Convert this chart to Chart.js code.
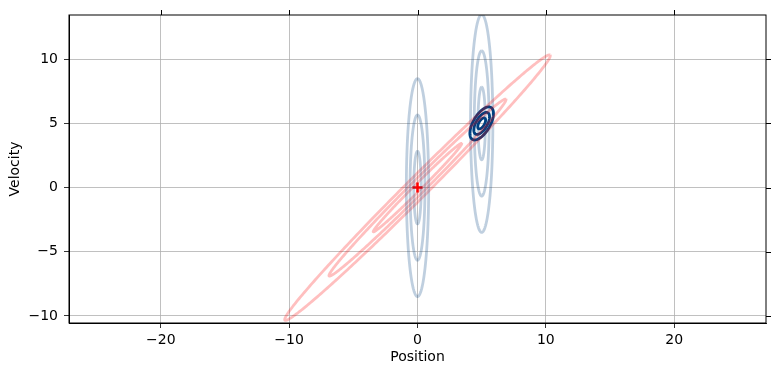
<!DOCTYPE html>
<html>
<head>
<meta charset="utf-8">
<script src="https://cdn.jsdelivr.net/npm/chart.js@4.4.0/dist/chart.umd.min.js"></script>
<style>
  html, body { margin: 0; padding: 0; background: #fff; }
  #wrap { width: 780px; height: 376px; }
</style>
</head>
<body>
<div id="wrap"><canvas id="myChart" width="780" height="376"></canvas></div>
<script>
// axis ranges and ticks
const xRange = [-27.15, 27.15];
const yRange = [-10.55, 13.45];
const xTicks = [-20, -10, 0, 10, 20];
const yTicks = [-10, -5, 0, 5, 10];

// covariance ellipses (1 sigma), drawn at 1, 2 and 3 sigma
const sigmaLevels = [1, 2, 3];
const ellipseNames = ['prior', 'predicted', 'priorShifted', 'posterior'];
const centerX = [0, 0, 5, 5];
const centerY = [0, 0, 5, 5];
const semiMajor = [2.83, 4.87, 2.83, 0.48];
const semiMinor = [0.29, 0.27, 0.29, 0.22];
const angleDeg = [90, 45, 90, 60];

// state marker
const markerX = [0];
const markerY = [0];

const ellipseStyle = {
    prior: 'rgba(0, 64, 128, 0.25)',
    predicted: 'rgba(255, 0, 0, 0.25)',
    priorShifted: 'rgba(0, 64, 128, 0.25)',
    posterior: 'rgb(0, 64, 128)'
};

function ellipseOutline(i, k) {
    var pts = [];
    var t = angleDeg[i] * Math.PI / 180;
    var a = semiMajor[i] * k, b = semiMinor[i] * k;
    for (var j = 0; j <= 180; j++) {
        var u = 2 * Math.PI * j / 180;
        var ex = a * Math.cos(u), ey = b * Math.sin(u);
        pts.push({
            x: centerX[i] + ex * Math.cos(t) - ey * Math.sin(t),
            y: centerY[i] + ex * Math.sin(t) + ey * Math.cos(t)
        });
    }
    return pts;
}

var datasets = [];
ellipseNames.forEach(function (name, i) {
    sigmaLevels.forEach(function (k) {
        datasets.push({
            label: name + ' ' + k + 'σ',
            data: ellipseOutline(i, k),
            showLine: true,
            borderColor: ellipseStyle[name],
            borderWidth: 2.8,
            pointRadius: 0,
            fill: false,
            tension: 0.001 // avoids the fast path, which breaks vertical curves
        });
    });
});
datasets.push({
    label: 'state',
    data: markerX.map(function (x, i) { return { x: x, y: markerY[i] }; }),
    pointStyle: 'cross',
    pointRadius: 5,
    borderColor: 'red',
    borderWidth: 2.5,
    showLine: false
});

function minus(v) { return String(v).replace('-', '\u2212'); }

// frame + ticks on top and right, like matplotlib
const frameTicks = {
    id: 'frameTicks',
    afterDraw: function (chart) {
        var ctx = chart.ctx, area = chart.chartArea;
        var sx = chart.scales.x, sy = chart.scales.y;
        ctx.save();
        ctx.strokeStyle = '#000';
        ctx.lineWidth = 1;
        ctx.strokeRect(area.left, area.top, area.right - area.left, area.bottom - area.top);
        ctx.beginPath();
        xTicks.forEach(function (v) {
            var px = Math.round(sx.getPixelForValue(v)) + 0.5;
            ctx.moveTo(px, area.top);
            ctx.lineTo(px, area.top - 5);
        });
        yTicks.forEach(function (v) {
            var py = Math.round(sy.getPixelForValue(v)) + 0.5;
            ctx.moveTo(area.right, py);
            ctx.lineTo(area.right + 5, py);
        });
        ctx.stroke();
        ctx.restore();
    }
};

const font = { family: 'DejaVu Sans', size: 14 };

new Chart(document.getElementById('myChart'), {
    type: 'scatter',
    data: { datasets: datasets },
    options: {
        responsive: false,
        animation: false,
        events: [],
        layout: { padding: { top: 15, right: 14, left: 0, bottom: 0 } },
        plugins: { legend: { display: false }, tooltip: { enabled: false } },
        scales: {
            x: {
                min: xRange[0], max: xRange[1],
                afterBuildTicks: function (s) { s.ticks = xTicks.map(function (v) { return { value: v }; }); },
                afterFit: function (s) { s.height = 53; },
                ticks: { color: '#000', font: font, padding: 4, maxRotation: 0, callback: function (v) { return minus(v); } },
                grid: { color: '#b0b0b0', lineWidth: 0.8, tickColor: '#000', tickLength: 5 },
                border: { display: true, color: '#000', width: 1 },
                title: { display: true, text: 'Position', color: '#000', font: font, padding: { top: 0, bottom: 10 } }
            },
            y: {
                min: yRange[0], max: yRange[1],
                afterBuildTicks: function (s) { s.ticks = yTicks.map(function (v) { return { value: v }; }); },
                afterFit: function (s) { s.width = 69; },
                ticks: { color: '#000', font: font, padding: 6, callback: function (v) { return minus(v); } },
                grid: { color: '#b0b0b0', lineWidth: 0.8, tickColor: '#000', tickLength: 5 },
                border: { display: true, color: '#000', width: 1 },
                title: { display: true, text: 'Velocity', color: '#000', font: font, padding: { top: 7, bottom: 0 } }
            }
        }
    },
    plugins: [frameTicks]
});
</script>
</body>
</html>
